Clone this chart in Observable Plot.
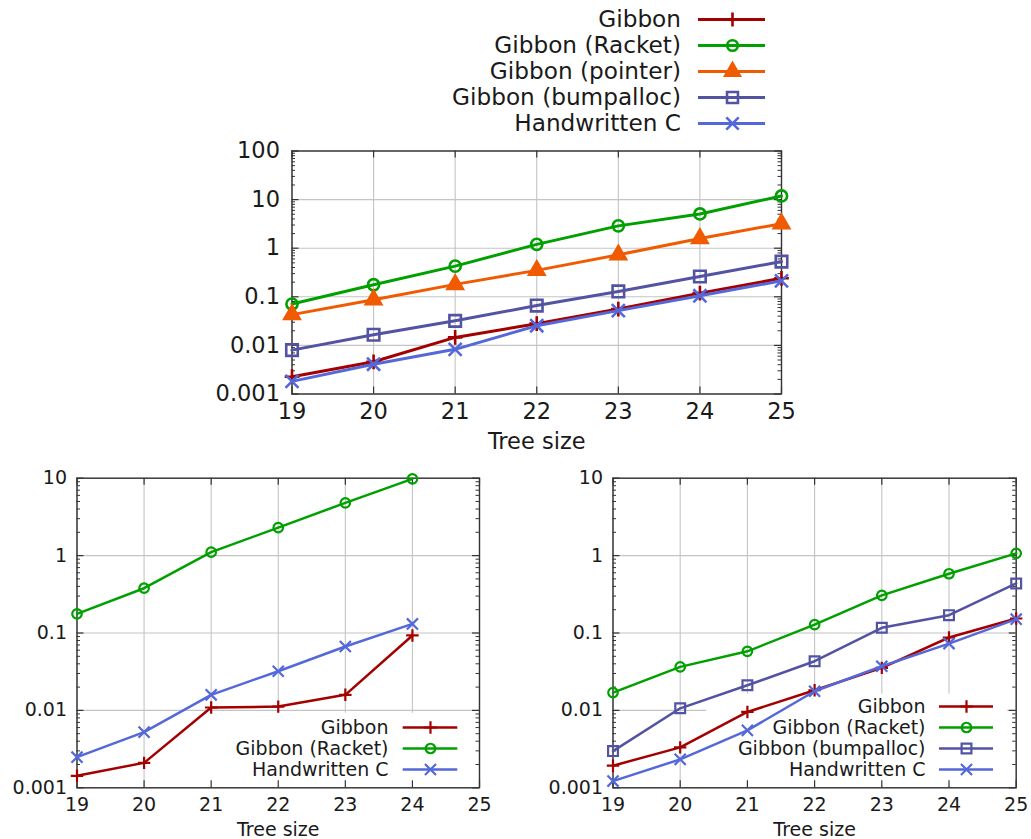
<!DOCTYPE html>
<html>
<head>
<meta charset="utf-8">
<script src="https://cdn.jsdelivr.net/npm/d3@7"></script>
<script src="https://cdn.jsdelivr.net/npm/@observablehq/plot@0.6"></script>
<style>
  body { margin: 0; background: #fff; }
  #root { position: relative; width: 1031px; height: 839px; overflow: hidden; font-family: "DejaVu Sans", sans-serif; }
  #root > svg { position: absolute; }
</style>
</head>
<body>
<div id="root"></div>
<script>
// ---------- data ----------
const sizes = [19, 20, 21, 22, 23, 24, 25];
const sizesLeft = [19, 20, 21, 22, 23, 24];
const seriesNames = ["Gibbon", "Gibbon (Racket)", "Gibbon (pointer)", "Gibbon (bumpalloc)", "Handwritten C"];
const yTicksTop = [0.001, 0.01, 0.1, 1, 10, 100];
const yTicksBottom = [0.001, 0.01, 0.1, 1, 10];
const xLabel = "Tree size";

// top panel
const topGibbon  = [0.00227, 0.0046, 0.0146, 0.028, 0.056, 0.119, 0.24];
const topRacket  = [0.071, 0.177, 0.427, 1.2, 2.88, 5.07, 11.9];
const topPointer = [0.043, 0.087, 0.18, 0.35, 0.73, 1.58, 3.2];
const topBump    = [0.008, 0.0166, 0.032, 0.066, 0.129, 0.262, 0.53];
const topC       = [0.00182, 0.0041, 0.0083, 0.0254, 0.052, 0.105, 0.213];

// bottom-left panel
const leftGibbon = [0.00143, 0.0021, 0.0109, 0.0112, 0.0159, 0.093];
const leftRacket = [0.177, 0.379, 1.107, 2.3, 4.8, 9.8];
const leftC      = [0.00249, 0.00524, 0.0159, 0.0321, 0.067, 0.131];

// bottom-right panel
const rightGibbon = [0.00193, 0.00333, 0.00955, 0.0182, 0.0354, 0.0875, 0.154];
const rightRacket = [0.017, 0.0365, 0.058, 0.128, 0.306, 0.583, 1.07];
const rightBump   = [0.00298, 0.01064, 0.0211, 0.0432, 0.1167, 0.170, 0.437];
const rightC      = [0.00122, 0.00233, 0.00552, 0.01766, 0.0372, 0.073, 0.151];

// ---------- styles ----------
const styles = {
  "Gibbon":             {color: "#a30000", symbol: "plus",     fill: "none"},
  "Gibbon (Racket)":    {color: "#00a000", symbol: "circle",   fill: "none"},
  "Gibbon (pointer)":   {color: "#f05a00", symbol: "triangle", fill: "#f05a00"},
  "Gibbon (bumpalloc)": {color: "#5353a3", symbol: "square",   fill: "none"},
  "Handwritten C":      {color: "#5468da", symbol: "times",    fill: "none"}
};
const symR = {plus: 4.8, circle: 5.6, triangle: 5.7, square: 6.5, times: 6.0};
const TEXT = "#1a1a1a";
const AXIS = "#333333";
const GRID = "#c4c4c4";

const root = document.getElementById("root");

function zip(xs, ys) { return xs.map((x, i) => ({x, y: ys[i]})); }

function place(svg, left, top) {
  svg.style.left = left + "px";
  svg.style.top = top + "px";
  root.appendChild(svg);
}

function panel({series, xs, yTicks, width, height, m, font, lw, sw, ms, tickPad, labelDy, box}) {
  const plotW = width - m.left - m.right;
  const plotH = height - m.top - m.bottom;
  const minor = [];
  const e0 = Math.round(Math.log10(yTicks[0])), e1 = Math.round(Math.log10(yTicks[yTicks.length - 1]));
  for (let e = e0; e < e1; e++) for (let k = 2; k <= 9; k++) minor.push(k * Math.pow(10, e));
  const marks = [
    Plot.gridX(sizes, {stroke: GRID, strokeOpacity: 1, strokeWidth: 1.1}),
    Plot.gridY(yTicks, {stroke: GRID, strokeOpacity: 1, strokeWidth: 1.1}),
  ];
  if (box) marks.push(Plot.frame({fill: "white", stroke: null, ...box}));
  marks.push(
    Plot.tickX(sizes, {x: d => d, insetTop: plotH - 7, stroke: AXIS, strokeWidth: 1.2}),
    Plot.tickX(sizes, {x: d => d, insetBottom: plotH - 7, stroke: AXIS, strokeWidth: 1.2}),
    Plot.tickY(yTicks, {y: d => d, insetRight: plotW - 7, stroke: AXIS, strokeWidth: 1.2}),
    Plot.tickY(yTicks, {y: d => d, insetLeft: plotW - 7, stroke: AXIS, strokeWidth: 1.2}),
    Plot.tickY(minor, {y: d => d, insetRight: plotW - 3.5, stroke: AXIS, strokeWidth: 1}),
    Plot.tickY(minor, {y: d => d, insetLeft: plotW - 3.5, stroke: AXIS, strokeWidth: 1}),
    Plot.frame({stroke: AXIS, strokeWidth: 1.4}),
    Plot.axisX(sizes, {tickSize: 0, tickPadding: tickPad.x, fontSize: font, fill: TEXT, label: null, tickFormat: d => String(d)}),
    Plot.axisY(yTicks, {tickSize: 0, tickPadding: tickPad.y, fontSize: font, fill: TEXT, label: null, tickFormat: d => String(d)}),
    Plot.text([xLabel], {text: d => d, frameAnchor: "bottom", dy: labelDy, fontSize: font, fill: TEXT, lineAnchor: "middle"})
  );
  for (const [name, values] of series) {
    const st = styles[name];
    const data = zip(xs, values);
    marks.push(
      Plot.line(data, {x: "x", y: "y", stroke: st.color, strokeWidth: lw, strokeLinejoin: "round"}),
      Plot.dot(data, {x: "x", y: "y", symbol: () => st.symbol, r: symR[st.symbol] * ms, stroke: st.color,
                      fill: st.fill, strokeWidth: sw})
    );
  }
  return Plot.plot({
    width, height,
    marginLeft: m.left, marginRight: m.right, marginTop: m.top, marginBottom: m.bottom,
    x: {domain: [19, 25]},
    y: {type: "log", domain: [yTicks[0], yTicks[yTicks.length - 1]]},
    symbol: {type: "identity"},
    style: {fontFamily: "DejaVu Sans", fontSize: font + "px", background: "transparent", overflow: "visible", color: TEXT},
    marks
  });
}

function legend({names, width, height, rowTop, rowBottom, font, lw, sw, ms, lineLen, markerDx, textDx}) {
  const marks = [];
  for (const name of names) {
    const st = styles[name];
    marks.push(
      Plot.ruleY([name], {y: d => d, stroke: st.color, strokeWidth: lw, insetLeft: width - lineLen}),
      Plot.dot([name], {y: d => d, frameAnchor: "right", dx: markerDx, symbol: () => st.symbol,
                        r: symR[st.symbol] * ms, stroke: st.color, fill: st.fill, strokeWidth: sw}),
      Plot.text([name], {y: d => d, text: d => d, frameAnchor: "right", dx: textDx, textAnchor: "end",
                         fontSize: font, fill: TEXT})
    );
  }
  return Plot.plot({
    width, height, margin: 0,
    y: {type: "point", domain: names, range: [rowTop, rowBottom], padding: 0, axis: null},
    symbol: {type: "identity"},
    style: {fontFamily: "DejaVu Sans", fontSize: font + "px", background: "transparent", overflow: "visible"},
    marks
  });
}

// ---------- top panel ----------
place(panel({
  series: [["Gibbon", topGibbon], ["Gibbon (Racket)", topRacket], ["Gibbon (pointer)", topPointer],
           ["Gibbon (bumpalloc)", topBump], ["Handwritten C", topC]],
  xs: sizes, yTicks: yTicksTop, width: 1031, height: 465,
  m: {left: 291.5, right: 250, top: 150.5, bottom: 71.5},
  font: 22.5, lw: 3, sw: 2.6, ms: 1, tickPad: {x: 9.5, y: 12}, labelDy: 48
}), 0, 0);

place(legend({
  names: seriesNames, width: 325, height: 142, rowTop: 18.3, rowBottom: 123.3,
  font: 23.2, lw: 3, sw: 2.6, ms: 0.95, lineLen: 67, markerDx: -33, textDx: -84.5
}), 440, 0);

// ---------- bottom-left panel ----------
place(panel({
  series: [["Gibbon", leftGibbon], ["Gibbon (Racket)", leftRacket], ["Handwritten C", leftC]],
  xs: sizesLeft, yTicks: yTicksBottom, width: 515, height: 374,
  m: {left: 76.5, right: 36, top: 12.7, bottom: 51.7},
  font: 19, lw: 2.5, sw: 2.2, ms: 0.85, tickPad: {x: 9.5, y: 10}, labelDy: 42,
  box: {insetLeft: 129, insetRight: 9, insetTop: 234.5, insetBottom: 1.5}
}), 0, 465);

place(legend({
  names: ["Gibbon", "Gibbon (Racket)", "Handwritten C"], width: 257.3, height: 90, rowTop: 26.7, rowBottom: 69.8,
  font: 19, lw: 2.5, sw: 2.2, ms: 0.85, lineLen: 54.6, markerDx: -27.3, textDx: -69.3
}), 200, 700);

// ---------- bottom-right panel ----------
place(panel({
  series: [["Gibbon", rightGibbon], ["Gibbon (Racket)", rightRacket], ["Gibbon (bumpalloc)", rightBump],
           ["Handwritten C", rightC]],
  xs: sizes, yTicks: yTicksBottom, width: 516, height: 374,
  m: {left: 97.5, right: 15.3, top: 12.7, bottom: 51.7},
  font: 19, lw: 2.5, sw: 2.2, ms: 0.85, tickPad: {x: 9.5, y: 10}, labelDy: 42,
  box: {insetLeft: 93, insetRight: 9, insetTop: 215.5, insetBottom: 2.5}
}), 515, 465);

place(legend({
  names: ["Gibbon", "Gibbon (Racket)", "Gibbon (bumpalloc)", "Handwritten C"], width: 293, height: 95,
  rowTop: 15, rowBottom: 80,
  font: 19, lw: 2.5, sw: 2.2, ms: 0.85, lineLen: 54, markerDx: -27, textDx: -68
}), 700, 690);
</script>
</body>
</html>
